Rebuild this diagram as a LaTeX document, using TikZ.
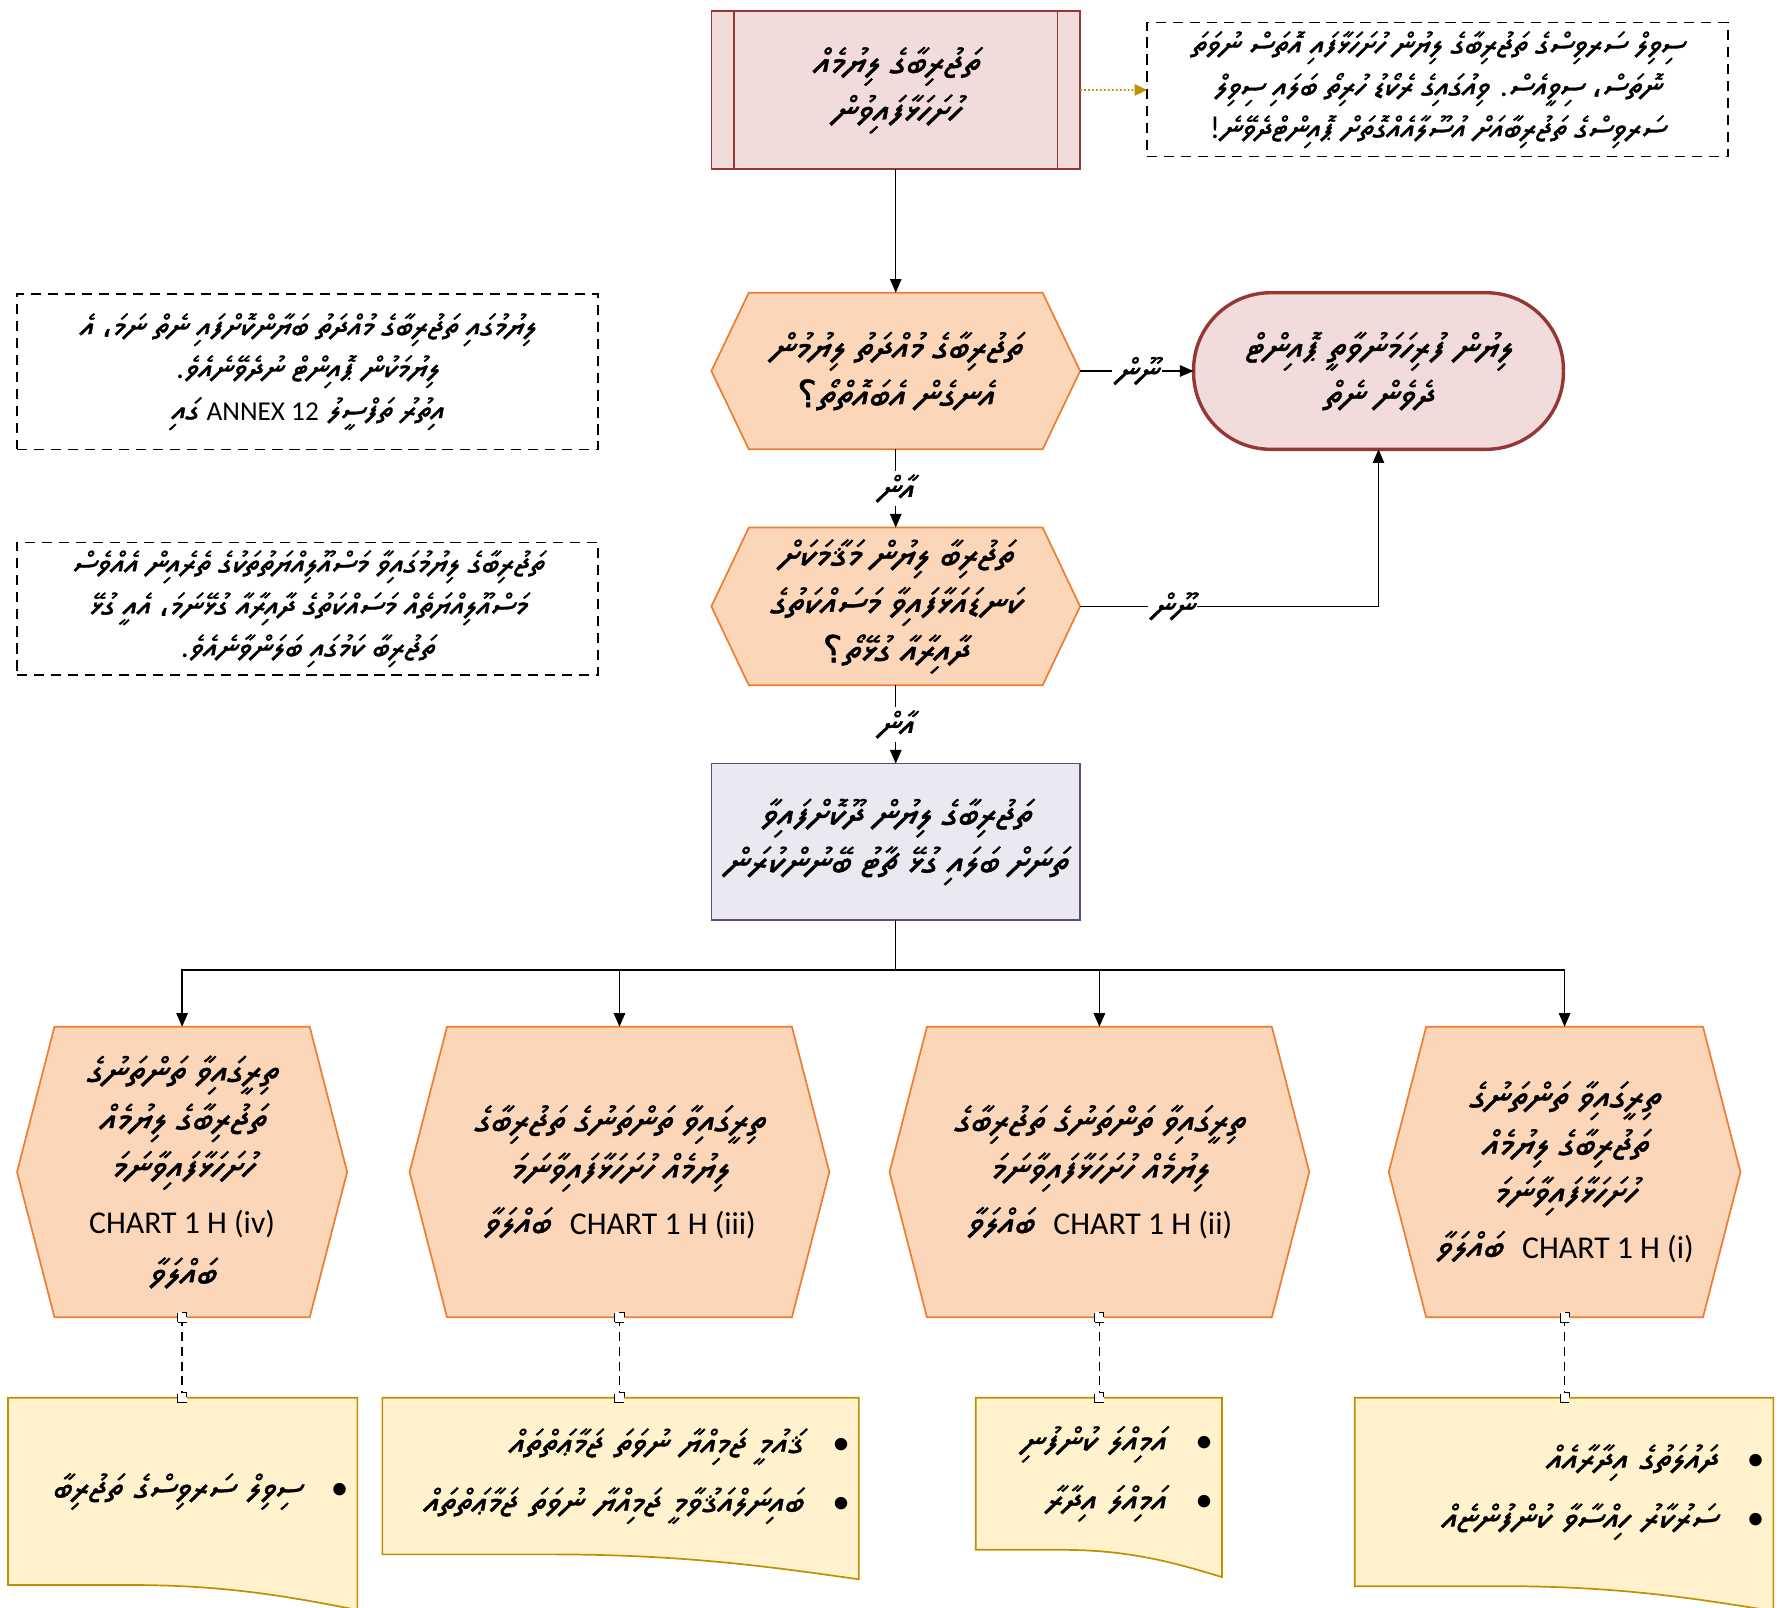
\documentclass[tikz,border=0pt]{standalone}
\usepackage{fontspec}
\usetikzlibrary{arrows.meta,backgrounds,calc}
\TeXXeTstate=1
\setmainfont{Carlito}
\IfFontExistsTF{Noto Sans Thaana}%
  {\newfontfamily\dvfont[Script=Thaana,FakeSlant=0.17,FakeBold=1.2]{Noto Sans Thaana}}%
  {\IfFontExistsTF{FreeSerif}%
    {\newfontfamily\dvfont[Script=Thaana,FakeSlant=0.17,FakeBold=1.2]{FreeSerif}}%
    {\newfontfamily\dvfont{DejaVu Sans}}}
\newfontfamily\arfont[FakeBold=1.2]{DejaVu Sans}
% right-to-left Thaana run, Latin run inside it, Arabic punctuation
\newcommand\dv[1]{{\dvfont\beginR #1\endR}}
\newcommand\lat[2][28]{\beginL{\rmfamily\fontsize{#1}{#1}\selectfont #2}\endL}
\newcommand\lp[1]{{\rmfamily #1}}
\newcommand\acm{{\arfont ،}}
\newcommand\aqm{{\arfont ؟}}
\newcommand\chartsz{\fontsize{28}{42}\selectfont}
\newcommand\boxsz{\fontsize{33}{42}\selectfont}
\newcommand\notesz{\fontsize{28}{37}\selectfont}
\newcommand\listsz{\fontsize{31}{37}\selectfont}
\newcommand\lblsz{\fontsize{30}{36}\selectfont}

\definecolor{boxred}{RGB}{149,55,53}
\definecolor{boxpink}{RGB}{242,220,219}
\definecolor{hexfill}{RGB}{251,214,185}
\definecolor{hexline}{RGB}{237,125,49}
\definecolor{lavfill}{RGB}{235,232,241}
\definecolor{lavline}{RGB}{96,74,123}
\definecolor{notefill}{RGB}{255,242,204}
\definecolor{noteline}{RGB}{191,144,0}

% elongated hexagon around a node
\newcommand\hexpath[2]{\path[hexshape] ([xshift=#2]#1.north west) -- ([xshift=-#2]#1.north east) -- (#1.east) -- ([xshift=-#2]#1.south east) -- ([xshift=#2]#1.south west) -- (#1.west) -- cycle;}
% document shape with a wavy lower edge
\newcommand\docpath[2]{\path[docshape] (#1.north west) -- (#1.north east) -- ([yshift=-#2]#1.south east) .. controls ($(#1.south west)!0.8!(#1.south east)+(0,0.45*#2)$) and ($(#1.south west)!0.62!(#1.south east)$) .. ($(#1.south west)!0.35!(#1.south east)$) -- (#1.south west) -- cycle;}

\begin{document}
\begin{tikzpicture}[x=1pt,y=-1pt,
  every node/.style={outer sep=0pt,inner sep=0pt},
  conn/.style={line width=1.3pt,-{Triangle[length=12pt,width=10pt]}},
  lbl/.style={fill=white,inner sep=3pt,font=\lblsz},
  txt/.style={align=center,font=\boxsz},
  hexshape/.style={draw=hexline,fill=hexfill,line width=1.5pt},
  docshape/.style={draw=noteline,fill=notefill,line width=1.5pt},
  dashnote/.style={draw,line width=1.4pt,dash pattern=on 9pt off 6pt,align=center,font=\notesz},
  notetxt/.style={align=right,font=\listsz,inner xsep=8pt,inner ysep=0pt},
  dashlink/.style={line width=1.2pt,dash pattern=on 8pt off 5pt},
  sqmark/.style={draw,fill=white,line width=0.9pt,minimum width=8pt,minimum height=9pt}]

\begin{pgfonlayer}{background}
\fill[white] (0,0) rectangle (1568,1417);
\end{pgfonlayer}
\useasboundingbox (0,0) rectangle (1568,1417);

% start: predefined process box
\node[txt,draw=boxred,fill=boxpink,line width=1.5pt,minimum width=325,minimum height=139] (title) at (789.5,79.5)
  {\dv{ތަޖުރިބާގެ ލިޔުމެއް}\\\dv{ހުށަހަޅާފައިވުން}};
\draw[boxred,line width=1.5pt] ([xshift=20pt]title.north west) -- ([xshift=20pt]title.south west);
\draw[boxred,line width=1.5pt] ([xshift=-20pt]title.north east) -- ([xshift=-20pt]title.south east);

% side notes
\node[dashnote,minimum width=512,minimum height=118] (tnote) at (1267,79)
  {\dv{ސިވިލް ސަރވިސްގެ ތަޖުރިބާގެ ލިޔުން ހުށަހަޅާފައި އޮތަސް ނުވަތަ}\\
   \dv{ނޮތަސް\acm{} ސިވީއެސް\lp{.} ވިއުގައިގެ ރެކޯޑު ހުރިތޯ ބަލައި ސިވިލް}\\
   \dv{ސަރވިސްގެ ތަޖުރިބާއަށް އުސޫލާއެއްގޮތަށް ޕޮއިންޓްދެވޭނެ\lp{!}}};
\node[dashnote,minimum width=512,minimum height=137] (lnote1) at (271,327.5)
  {\dv{ލިޔުމުގައި ތަޖުރިބާގެ މުއްދަތު ބަޔާންކޮށްފައި ނެތް ނަމަ\acm{} އެ}\\
   \dv{ލިޔުމަކުން ޕޮއިންޓް ނުދެވޭނެއެވެ\lp{.}}\\
   \dv{އިތުރު ތަފްސީލު \lat[24]{ANNEX 12} ގައި}};
\node[dashnote,minimum width=512,minimum height=117] (lnote2) at (271,536.5)
  {\dv{ތަޖުރިބާގެ ލިޔުމުގައިވާ މަސްއޫލިއްޔަތުތަކުގެ ތެރެއިން އެއްވެސް}\\
   \dv{މަސްއޫލިއްޔަތެއް މަސައްކަތުގެ ދާއިރާއާ ގުޅޭނަމަ\acm{} އެއީ ގުޅޭ}\\
   \dv{ތަޖުރިބާ ކަމުގައި ބަލަންވާނެއެވެ\lp{.}}};

% decisions
\node[txt,minimum width=325,minimum height=138] (h1) at (789.5,327)
  {\dv{ތަޖުރިބާގެ މުއްދަތު ލިޔުމުން}\\\dv{އެނގެން އެބައޮތްތޯ\aqm}};
\node[txt,minimum width=325,minimum height=139] (h2) at (789.5,534.5)
  {\dv{ތަޖުރިބާ ލިޔުން މަޤާމަކަށް}\\\dv{ކަނޑައަޅާފައިވާ މަސައްކަތުގެ}\\\dv{ދާއިރާއާ ގުޅޭތޯ\aqm}};

% terminator
\node[txt,draw=boxred,fill=boxpink,line width=3pt,rounded corners=68pt,minimum width=326,minimum height=138] (nopts) at (1215,327)
  {\dv{ލިޔުން ފުރިހަމަނުވާތީ ޕޮއިންޓް}\\\dv{ދެވެން ނެތް}};

% process
\node[txt,draw=lavline,fill=lavfill,line width=1.5pt,minimum width=325,minimum height=138] (pbox) at (789.5,742)
  {\dv{ތަޖުރިބާގެ ލިޔުން ދޫކޮށްފައިވާ}\\\dv{ތަނަށް ބަލައި ގުޅޭ ޗާޓު ބޭނުންކުރަން}};

% chart choices
\node[txt,minimum width=291,minimum height=256] (b4) at (160.5,1033)
  {\dv{ތިރީގައިވާ ތަންތަނުގެ}\\\dv{ތަޖުރިބާގެ ލިޔުމެއް}\\\dv{ހުށަހަޅާފައިވާނަމަ}\\[6pt]{\chartsz CHART 1 H (iv)}\\[4pt]\dv{ބައްލަވާ}};
\node[txt,minimum width=370,minimum height=256] (b3) at (546,1033)
  {\dv{ތިރީގައިވާ ތަންތަނުގެ ތަޖުރިބާގެ}\\\dv{ލިޔުމެއް ހުށަހަޅާފައިވާނަމަ}\\[6pt]\dv{\lat{CHART 1 H (iii)}~~ބައްލަވާ}};
\node[txt,minimum width=370,minimum height=256] (b2) at (969,1033)
  {\dv{ތިރީގައިވާ ތަންތަނުގެ ތަޖުރިބާގެ}\\\dv{ލިޔުމެއް ހުށަހަޅާފައިވާނަމަ}\\[6pt]\dv{\lat{CHART 1 H (ii)}~~ބައްލަވާ}};
\node[txt,minimum width=310,minimum height=256] (b1) at (1379,1033)
  {\dv{ތިރީގައިވާ ތަންތަނުގެ}\\\dv{ތަޖުރިބާގެ ލިޔުމެއް}\\\dv{ހުށަހަޅާފައިވާނަމަ}\\[6pt]\dv{\lat{CHART 1 H (i)}~~ބައްލަވާ}};

% workplace lists
\node[notetxt,text width=292,minimum height=165] (n4) at (161,1314.5)
  {\dv{ސިވިލް ސަރވިސްގެ ތަޖުރިބާ}\hspace{26pt}\textbullet};
\node[notetxt,text width=404,minimum height=138] (n3) at (547,1301)
  {\dv{ޤައުމީ ޖަމިއްޔާ ނުވަތަ ޖަމާޢަތްތައް}\hspace{26pt}\textbullet\\[15pt]
   \dv{ބައިނަލްއަޤުވާމީ ޖަމިއްޔާ ނުވަތަ ޖަމާޢަތްތައް}\hspace{26pt}\textbullet};
\node[notetxt,text width=201,minimum height=134] (n2) at (968.5,1299)
  {\dv{އަމިއްލަ ކުންފުނި}\hspace{26pt}\textbullet\\[15pt]
   \dv{އަމިއްލަ އިދާރާ}\hspace{26pt}\textbullet};
\node[notetxt,text width=353,minimum height=166] (n1) at (1378.5,1315)
  {\dv{ދައުލަތުގެ އިދާރާއެއް}\hspace{26pt}\textbullet\\[15pt]
   \dv{ސަރުކާރު ހިއްސާވާ ކުންފުންޏެއް}\hspace{26pt}\textbullet};

\begin{pgfonlayer}{background}
\hexpath{h1}{33}
\hexpath{h2}{33}
\hexpath{b1}{33}
\hexpath{b2}{33}
\hexpath{b3}{33}
\hexpath{b4}{33}
\docpath{n1}{22}
\docpath{n2}{24}
\docpath{n3}{22}
\docpath{n4}{22}
\end{pgfonlayer}

% connectors
\draw[noteline,line width=1.5pt,dotted,-{Triangle[length=11pt,width=10pt]}] (title) -- (tnote);
\draw[conn] (title) -- (h1);
\draw[conn] (h1) -- node[lbl] (no1) {\dv{ނޫން}} (nopts);
\draw[conn] (h1) -- node[lbl] (yes1) {\dv{އާން}} (h2);
\draw[conn] (h2) -| node[lbl,pos=0.155] (no2) {\dv{ނޫން}} (nopts);
\draw[conn] (h2) -- node[lbl] (yes2) {\dv{އާން}} (pbox);
\coordinate (split) at (789.5,855);
\draw[line width=1.3pt] (pbox) -- (split);
\foreach \b in {b1,b2,b3,b4} \draw[conn] (split) -| (\b);
\foreach \b/\n in {b1/n1,b2/n2,b3/n3,b4/n4}
  \draw[dashlink] (\b.south) -- (\b.south |- \n.north)
    node[sqmark,pos=0] (\b-out) {} node[sqmark,pos=1] (\n-in) {};
\end{tikzpicture}
\end{document}
